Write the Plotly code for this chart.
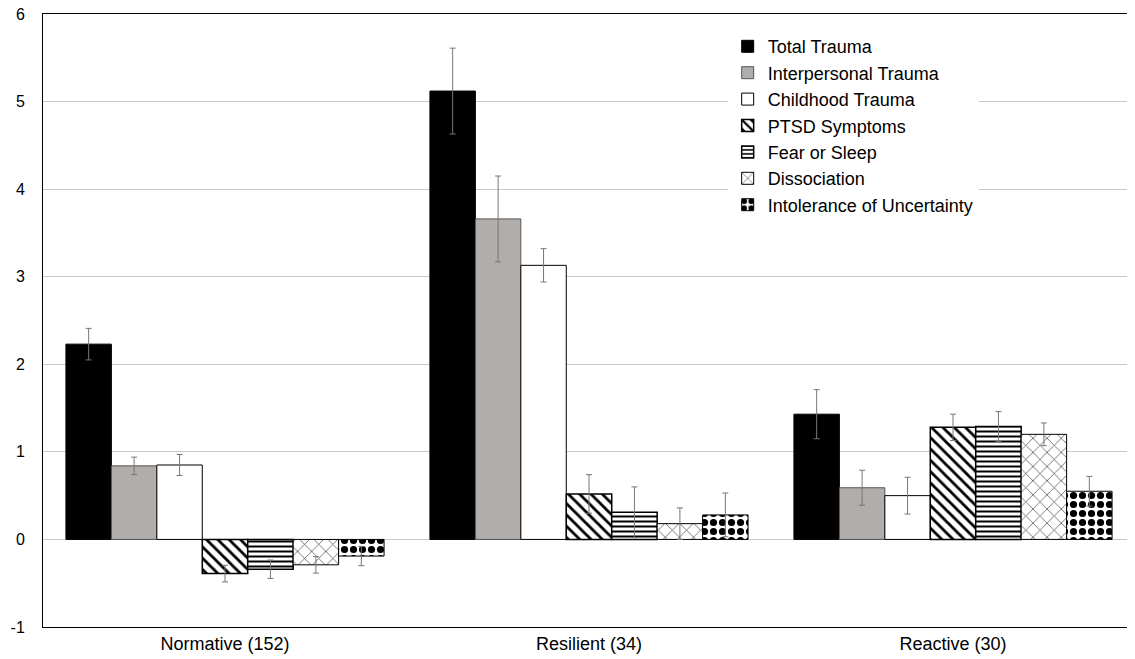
import plotly.graph_objects as go

categories = ["Normative (152)", "Resilient (34)", "Reactive (30)"]
series_names = ["Total Trauma", "Interpersonal Trauma", "Childhood Trauma", "PTSD Symptoms",
                "Fear or Sleep", "Dissociation", "Intolerance of Uncertainty"]

total_trauma = [2.23, 5.12, 1.43]
interpersonal_trauma = [0.84, 3.66, 0.59]
childhood_trauma = [0.85, 3.13, 0.50]
ptsd_symptoms = [-0.39, 0.52, 1.28]
fear_or_sleep = [-0.34, 0.31, 1.29]
dissociation = [-0.29, 0.18, 1.20]
intolerance_uncertainty = [-0.19, 0.28, 0.55]

err_total = [0.18, 0.49, 0.28]
err_interpersonal = [0.10, 0.49, 0.20]
err_childhood = [0.12, 0.19, 0.21]
err_ptsd = [0.095, 0.22, 0.15]
err_fear = [0.105, 0.29, 0.17]
err_dissociation = [0.095, 0.18, 0.13]
err_iu = [0.11, 0.25, 0.17]

y_ticks = [-1, 0, 1, 2, 3, 4, 5, 6]
y_tick_labels = ["-1", "0", "1", "2", "3", "4", "5", "6"]

values = [total_trauma, interpersonal_trauma, childhood_trauma, ptsd_symptoms,
          fear_or_sleep, dissociation, intolerance_uncertainty]
errors = [err_total, err_interpersonal, err_childhood, err_ptsd, err_fear, err_dissociation, err_iu]

styles = [
    dict(color="#000000", line=dict(color="#000000", width=1)),
    dict(color="#b0adab", line=dict(color="#555555", width=1)),
    dict(color="#ffffff", line=dict(color="#000000", width=1)),
    dict(color="#ffffff", line=dict(color="#000000", width=1.5),
         pattern=dict(shape="\\", fgcolor="#000000", bgcolor="#ffffff", fgopacity=1,
                      fillmode="replace", size=8, solidity=0.35)),
    dict(color="#ffffff", line=dict(color="#000000", width=1.5),
         pattern=dict(shape="-", fgcolor="#000000", bgcolor="#ffffff", fgopacity=1,
                      fillmode="replace", size=5, solidity=0.4)),
    dict(color="#ffffff", line=dict(color="#000000", width=1),
         pattern=dict(shape="x", fgcolor="#555555", bgcolor="#ffffff", fgopacity=1,
                      fillmode="replace", size=10, solidity=0.15)),
    dict(color="#ffffff", line=dict(color="#000000", width=1),
         pattern=dict(shape=".", fgcolor="#000000", bgcolor="#ffffff", fgopacity=1,
                      fillmode="replace", size=9, solidity=0.5)),
]

fig = go.Figure()
for name, vals, errs, st in zip(series_names, values, errors, styles):
    fig.add_trace(go.Bar(
        x=categories, y=vals, name=name,
        marker=st,
        error_y=dict(type="data", array=errs, visible=True, color="#777777", thickness=1, width=3),
    ))

fig.update_layout(
    width=1127, height=651,
    barmode="group", bargap=0.126, bargroupgap=0,
    plot_bgcolor="#ffffff", paper_bgcolor="#ffffff",
    margin=dict(l=35, r=0, t=6, b=32, autoexpand=False),
    font=dict(family="Liberation Sans, Arial, sans-serif", size=16, color="#000000"),
    showlegend=True,
    legend=dict(x=0.627, y=0.977, xanchor="left", yanchor="top", bgcolor="#ffffff",
                font=dict(size=18), tracegroupgap=0, itemwidth=30, borderwidth=0),
    xaxis=dict(showline=True, linecolor="#000000", linewidth=1, mirror=True, automargin=False,
               ticks="", tickfont=dict(size=18), showgrid=False),
    yaxis=dict(range=[-1, 6], tickvals=y_ticks, ticktext=y_tick_labels, automargin=False,
               showline=True, linecolor="#000000", linewidth=1, mirror=False,
               showgrid=True, gridcolor="#c8c8c8", gridwidth=1, zeroline=True, zerolinecolor="#c8c8c8",
               zerolinewidth=1, ticks="", tickfont=dict(size=16), ticklabelstandoff=14,
               ticklabeloverflow="allow"),
)

fig.write_html("out.html")
